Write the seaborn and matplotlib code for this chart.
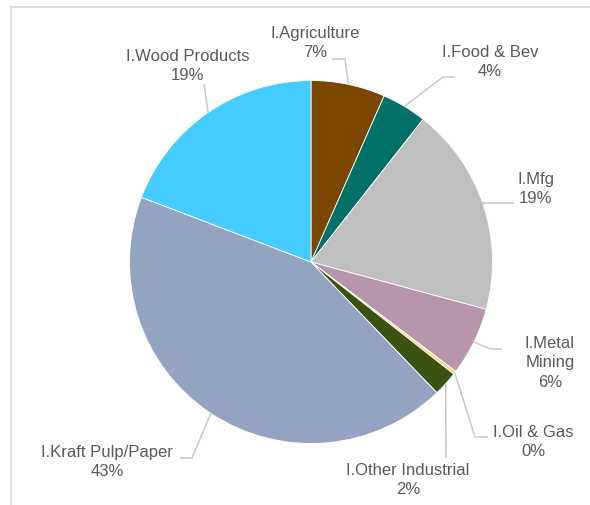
import numpy as np
import matplotlib
matplotlib.use("Agg")
import matplotlib.pyplot as plt
from matplotlib.lines import Line2D
import seaborn as sns

# Share of emissions by industrial sector
categories = ["I.Agriculture", "I.Food & Bev", "I.Mfg", "I.Metal\nMining",
              "I.Oil & Gas", "I.Other Industrial", "I.Kraft Pulp/Paper",
              "I.Wood Products"]
shares = [6.6, 4.0, 18.6, 6.1, 0.3, 2.2, 43.0, 19.2]
colors = ["#7a4600", "#007068", "#bfbfbf", "#b795ab",
          "#f2d98c", "#3b5213", "#95a3c2", "#44cbff"]

sns.set_theme(style="white")
plt.rcParams["font.family"] = ["Liberation Sans", "DejaVu Sans"]

W, H = 590, 505
fig = plt.figure(figsize=(W / 100, H / 100), dpi=100)
ax = fig.add_axes([0, 0, 1, 1])

def py(y):
    # layout is written with y measured from the top edge
    return H - y

cx, cy, r = 311, 262, 181.5
palette = sns.color_palette(colors)
wedges, _ = ax.pie(shares, colors=palette, startangle=90, counterclock=False,
                   center=(cx, py(cy)), radius=r, frame=True,
                   wedgeprops=dict(linewidth=0.6, edgecolor="white"))
ax.set_xlim(0, W)
ax.set_ylim(0, H)
ax.set_aspect("equal")
ax.axis("off")

# label centre (x, y from top) and leader elbow / end points
label_pos = [(315, 43), (490, 62), (536, 189), (550, 363),
             (533, 442), (408, 480), (107, 462), (188, 66)]
leader_mid = [(345, 59), (443, 77), (483, 203), (490, 349),
              (475, 437), (446, 458), (192, 458), (204, 84)]
leader_end = [(332, 59), (455, 77), (514, 203), (502, 349),
              (488, 437), (446, 458), (180, 458), (204, 84)]

line_col = "#c8c8c8"
text_col = "#595959"
for w, name, val, lp, lm, le in zip(wedges, categories, shares,
                                    label_pos, leader_mid, leader_end):
    mid = np.deg2rad((w.theta1 + w.theta2) / 2)
    sx = cx + r * np.cos(mid)
    sy = py(cy) + r * np.sin(mid)
    ax.plot([sx, lm[0], le[0]], [sy, py(lm[1]), py(le[1])],
            color=line_col, lw=1.1, solid_capstyle="butt", zorder=1)
    ax.text(lp[0], py(lp[1]), f"{name}\n{val:.0f}%", ha="center",
            va="center", fontsize=12, color=text_col, linespacing=1.35)

# chart-area frame
fig.add_artist(Line2D([11 / W, 1], [1 - 7 / H, 1 - 7 / H],
                      color="#d9d9d9", lw=1.2, transform=fig.transFigure))
fig.add_artist(Line2D([11 / W, 11 / W], [0, 1 - 7 / H],
                      color="#d9d9d9", lw=1.2, transform=fig.transFigure))

fig.savefig("out.png", dpi=100)
